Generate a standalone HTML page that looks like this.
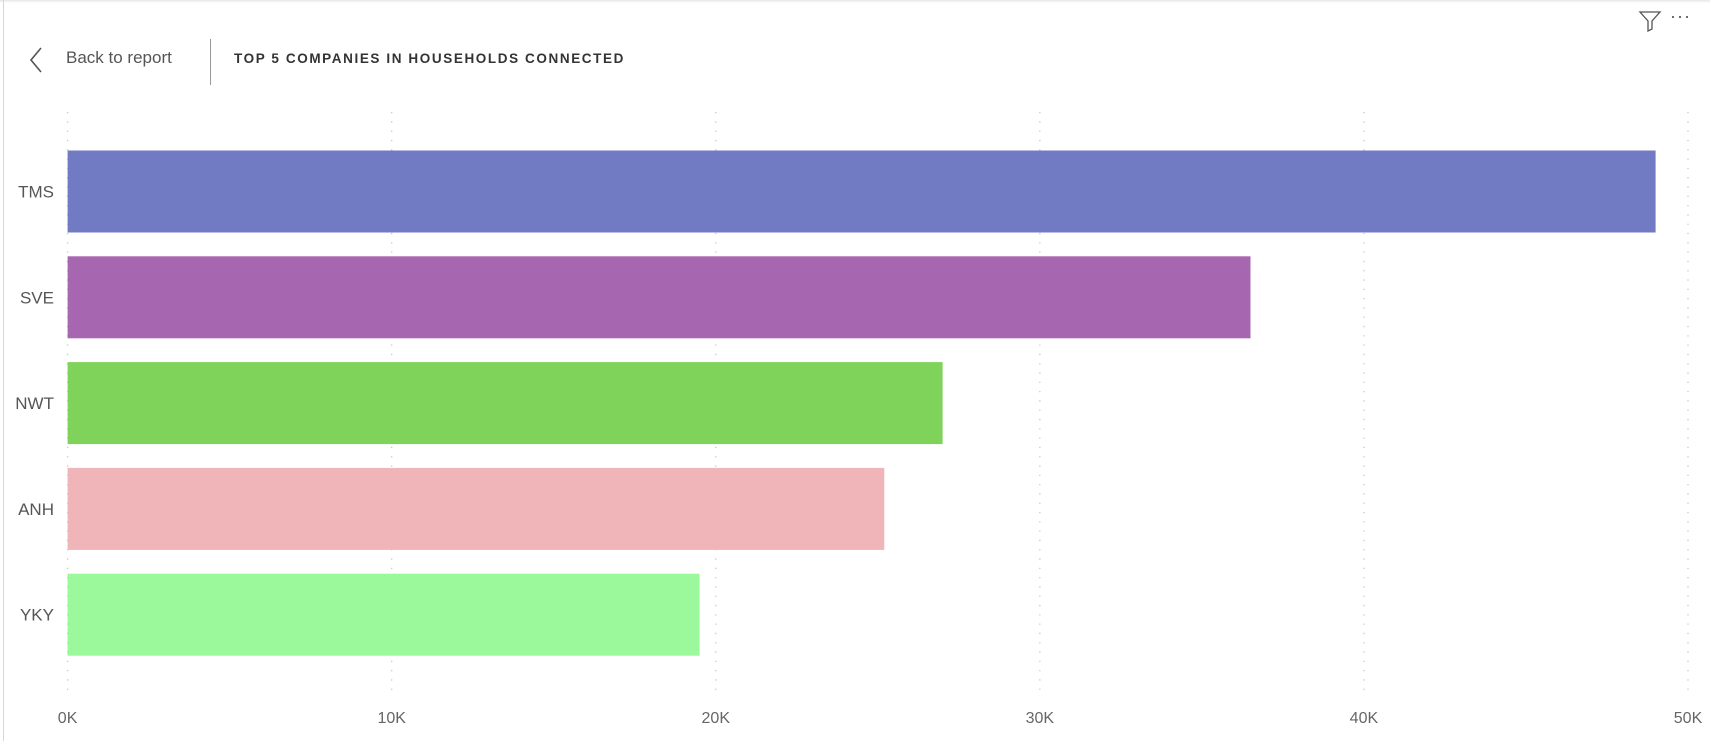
<!DOCTYPE html>
<html><head><meta charset="utf-8"><style>
body{margin:0;width:1710px;height:741px;background:#fff;overflow:hidden;font-family:"Liberation Sans",sans-serif;position:relative}
.abs{position:absolute}
</style></head><body>
<div class="abs" style="left:0;top:0;width:1710px;height:3px;background:linear-gradient(#e6e6e6,#fff)"></div>
<div class="abs" style="left:3px;top:0;width:1px;height:741px;background:#d6d6d6"></div>
<svg class="abs" style="left:28px;top:46px" width="16" height="28"><polyline points="13,2 3,14 13,26" fill="none" stroke="#555" stroke-width="1.6"/></svg>
<div class="abs" style="left:66px;top:48px;font-size:17px;color:#555">Back to report</div>
<div class="abs" style="left:210px;top:39px;width:1px;height:46px;background:#999"></div>
<div class="abs" style="left:234px;top:51px;font-size:13.5px;font-weight:bold;letter-spacing:1.6px;color:#333">TOP 5 COMPANIES IN HOUSEHOLDS CONNECTED</div>
<svg class="abs" style="left:1638px;top:10px" width="24" height="22"><path d="M2,2 H22 L14,11 V19 L10,21 V11 Z" fill="none" stroke="#555" stroke-width="1.3"/></svg>
<div class="abs" style="left:1670px;top:6px;font-size:18px;color:#555;letter-spacing:1px">···</div>
<svg id="chart" class="abs" style="left:0;top:0" width="1710" height="741"></svg>
<script>
const categories=["TMS","SVE","NWT","ANH","YKY"];
const values=[49000,36500,27000,25200,19500];
const colors=["#717bc4","#a767b0","#80d35a","#efb5b9","#9bf89b"];
const ticks=[0,10000,20000,30000,40000,50000];
const tickLabels=["0K","10K","20K","30K","40K","50K"];
const svg=document.getElementById('chart');
const NS="http://www.w3.org/2000/svg";
const x0=67.6,x1=1688,vmax=50000;
const xs=v=>x0+(x1-x0)*v/vmax;
const bandTop=150.5,band=105.8,barH=82;
function mk(t,a){const e=document.createElementNS(NS,t);for(const k in a)e.setAttribute(k,a[k]);svg.appendChild(e);return e;}
ticks.forEach((t,i)=>{
 const g=mk('line',{x1:xs(t),x2:xs(t),y1:112,y2:698,stroke:'#c8c8c8','stroke-width':1.3,'stroke-dasharray':'1.3 8'});
 
 
 const tx=mk('text',{x:xs(t),y:723,'text-anchor':'middle','font-size':16,fill:'#666','font-family':'Liberation Sans'});
 tx.textContent=tickLabels[i];
 
 
});
categories.forEach((c,i)=>{
 const y=bandTop+band*i;
 const r=mk('rect',{x:x0,y:y,width:xs(values[i])-x0,height:barH,fill:colors[i]});
 
 
 const tx=mk('text',{x:54,y:y+barH/2+6,'text-anchor':'end','font-size':17,fill:'#555','font-family':'Liberation Sans'});
 tx.textContent=c;
 
 
});
</script>
</body></html>
